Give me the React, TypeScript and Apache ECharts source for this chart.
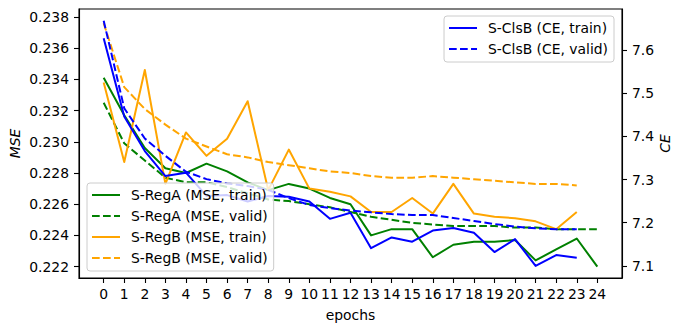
import React, { useEffect, useRef } from "react";
import * as echarts from "echarts";

const epochs = [0,1,2,3,4,5,6,7,8,9,10,11,12,13,14,15,16,17,18,19,20,21,22,23,24];
const xTicks = [0,1,2,3,4,5,6,7,8,9,10,11,12,13,14,15,16,17,18,19,20,21,22,23,24];
const mseTicks = [0.222,0.224,0.226,0.228,0.23,0.232,0.234,0.236,0.238];
const ceTicks = [7.1,7.2,7.3,7.4,7.5,7.6];

const regATrain = [0.2341,0.2317,0.2296,0.2283,0.2280,0.2286,0.2281,0.2274,0.2269,0.2273,0.2270,0.2264,0.2260,0.2240,0.2244,0.2244,0.2226,0.2234,0.2236,0.2236,0.2237,0.2224,0.2231,0.2238,0.2220];
const regAValid = [0.2325,0.2299,0.2288,0.2277,0.2274,0.2274,0.2271,0.2267,0.2263,0.2262,0.2260,0.2258,0.2255,0.2252,0.2250,0.2248,0.2247,0.2246,0.2246,0.2246,0.2245,0.2245,0.2244,0.2244,0.2244];
const regBTrain = [0.2338,0.2287,0.2346,0.2273,0.2306,0.2291,0.2302,0.2326,0.2269,0.2295,0.2270,0.2268,0.2265,0.2255,0.2255,0.2264,0.2254,0.2273,0.2254,0.2252,0.2251,0.2249,0.2244,0.2255];
const regBValid = [0.2376,0.2335,0.2321,0.2311,0.2302,0.2297,0.2292,0.2290,0.2287,0.2285,0.2283,0.2281,0.2280,0.2278,0.2277,0.2277,0.2278,0.2277,0.2276,0.2275,0.2274,0.2273,0.2273,0.2272];
const clsBTrain = [7.627,7.446,7.366,7.308,7.316,7.262,7.264,7.249,7.262,7.260,7.249,7.209,7.223,7.141,7.166,7.156,7.182,7.188,7.177,7.132,7.162,7.100,7.125,7.119];
const clsBValid = [7.668,7.465,7.395,7.355,7.318,7.301,7.291,7.285,7.276,7.257,7.241,7.234,7.228,7.224,7.220,7.218,7.218,7.211,7.204,7.197,7.191,7.187,7.185,7.185];

const FONT = "DejaVu Sans";
const FS = 13.9;
const DASH = [7.7, 3.3];

function pairs(vals: number[]) {
  return vals.map((v, i) => [epochs[i], v]);
}

export default function App() {
  const ref = useRef<HTMLDivElement>(null);
  useEffect(() => {
    if (!ref.current) return;
    const chart = echarts.init(ref.current, null, { renderer: "svg" });
    const mk = (name: string, vals: number[], color: string, dashed: boolean, yIdx: number) => ({
      name,
      type: "line",
      yAxisIndex: yIdx,
      data: pairs(vals),
      symbol: "none",
      showSymbol: false,
      color,
      lineStyle: { color, width: 2, type: dashed ? DASH : "solid", cap: "butt", join: "round" },
      emphasis: { disabled: true },
      silent: true,
    });
    const legendCommon = {
      orient: "vertical",
      itemWidth: 28,
      itemHeight: 14,
      itemGap: 7,
      selectedMode: false,
      backgroundColor: "rgba(255,255,255,0.8)",
      borderColor: "#cccccc",
      borderWidth: 1,
      borderRadius: 3,
      padding: [5, 6, 6, 4],
      itemStyle: { opacity: 0 },
      textStyle: { fontFamily: FONT, fontSize: FS, color: "#000", padding: [0, 0, 0, 6] },
    };
    const axisLine = { show: true, onZero: false, lineStyle: { color: "#000", width: 1.1 } };
    chart.setOption({
      animation: false,
      textStyle: { fontFamily: FONT },
      grid: { left: 79, right: 60, top: 9, bottom: 54, show: true, borderColor: "#000", borderWidth: 1.1, outerBoundsMode: "none" },
      xAxis: {
        type: "value",
        min: -1.2,
        max: 25.2,
        name: "epochs",
        nameLocation: "middle",
        nameGap: 30,
        nameMoveOverlap: false,
        nameTextStyle: { fontFamily: FONT, fontSize: FS, color: "#000" },
        axisLine,
        axisTick: { show: true, length: 5, customValues: xTicks, lineStyle: { color: "#000", width: 1.1 } },
        axisLabel: { show: true, customValues: xTicks, margin: 9, fontFamily: FONT, fontSize: FS, color: "#000" },
        splitLine: { show: false },
      },
      yAxis: [
        {
          type: "value",
          position: "left",
          min: 0.22127,
          max: 0.23851,
          name: "MSE",
          nameLocation: "middle",
          nameRotate: 90,
          nameGap: 57,
          nameMoveOverlap: false,
          nameTextStyle: { fontFamily: FONT, fontSize: FS, color: "#000", fontStyle: "italic" },
          axisLine,
          axisTick: { show: true, length: 5, customValues: mseTicks, lineStyle: { color: "#000", width: 1.1 } },
          axisLabel: { show: true, customValues: mseTicks, margin: 10, fontFamily: FONT, fontSize: FS, color: "#000", formatter: (v: number) => v.toFixed(3) },
          splitLine: { show: false },
        },
        {
          type: "value",
          position: "right",
          min: 7.072,
          max: 7.695,
          name: "CE",
          nameLocation: "middle",
          nameRotate: 90,
          nameGap: 36,
          nameMoveOverlap: false,
          nameTextStyle: { fontFamily: FONT, fontSize: FS, color: "#000", fontStyle: "italic" },
          axisLine,
          axisTick: { show: true, length: 5, customValues: ceTicks, lineStyle: { color: "#000", width: 1.1 } },
          axisLabel: { show: true, customValues: ceTicks, margin: 10, fontFamily: FONT, fontSize: FS, color: "#000", formatter: (v: number) => v.toFixed(1) },
          splitLine: { show: false },
        },
      ],
      legend: [
        { ...legendCommon, right: 68, top: 16, data: ["S-ClsB (CE, train)", "S-ClsB (CE, valid)"] },
        { ...legendCommon, left: 87, top: 183, data: ["S-RegA (MSE, train)", "S-RegA (MSE, valid)", "S-RegB (MSE, train)", "S-RegB (MSE, valid)"] },
      ],
      series: [
        mk("S-RegA (MSE, train)", regATrain, "#008000", false, 0),
        mk("S-RegA (MSE, valid)", regAValid, "#008000", true, 0),
        mk("S-RegB (MSE, train)", regBTrain, "#ffa500", false, 0),
        mk("S-RegB (MSE, valid)", regBValid, "#ffa500", true, 0),
        mk("S-ClsB (CE, train)", clsBTrain, "#0000ff", false, 1),
        mk("S-ClsB (CE, valid)", clsBValid, "#0000ff", true, 1),
      ],
    });
    return () => chart.dispose();
  }, []);
  return <div ref={ref} style={{ position: "fixed", left: 0, top: 0, width: 682, height: 332, background: "#fff" }} />;
}
